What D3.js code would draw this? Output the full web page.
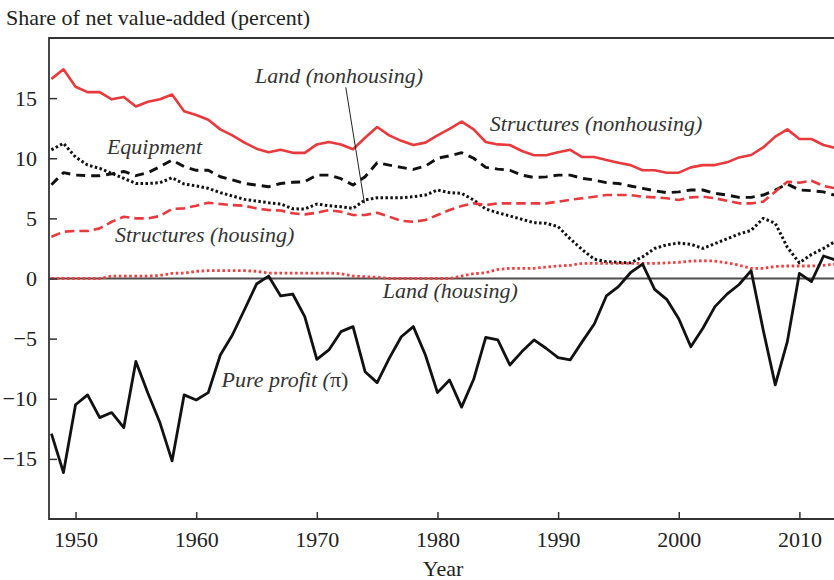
<!DOCTYPE html>
<html lang="en">
<head>
	<meta charset="UTF-8">
	<script type="text/javascript" src="https://d3js.org/d3.v7.min.js"></script>
	<title>capital shares</title>
	<style>
        body{
            margin: 0;
            background: #fff;
        }
        text{
            font-family: "Liberation Serif", "DejaVu Serif", serif;
        }
        .tick text{
            font-size: 22px;
            fill: #222;
        }
        .tick line{
            stroke: #333;
            stroke-width: 1.5px;
        }
        .lbl{
            font-size: 22px;
            font-style: italic;
            fill: #333;
        }
	</style>
</head>
<body>
<svg id="chart" width="834" height="580"></svg>
<script>

	const years = d3.range(1948, 2014);

	// share of net value-added, percent
	const structuresNonhousing = [16.6, 17.4, 15.95, 15.5, 15.5, 14.9, 15.1, 14.3, 14.7, 14.9,
		15.3, 13.9, 13.6, 13.2, 12.4, 11.9, 11.3, 10.8, 10.5, 10.7,
		10.45, 10.45, 11.15, 11.35, 11.15, 10.75, 11.7, 12.6, 11.9, 11.45,
		11.1, 11.3, 11.9, 12.45, 13.05, 12.4, 11.35, 11.15, 11.1, 10.6,
		10.25, 10.25, 10.5, 10.7, 10.1, 10.1, 9.85, 9.63, 9.43, 9.0,
		9.0, 8.8, 8.8, 9.24, 9.43, 9.43, 9.66, 10.07, 10.27, 10.9,
		11.8, 12.4, 11.6, 11.6, 11.1, 10.85];
	const equipment = [7.8, 8.8, 8.6, 8.55, 8.55, 8.7, 8.9, 8.55, 8.8, 9.3,
		9.85, 9.3, 9.0, 9.0, 8.46, 8.2, 7.9, 7.77, 7.63, 7.9,
		8.0, 8.05, 8.6, 8.6, 8.3, 7.77, 8.46, 9.63, 9.43, 9.24,
		9.07, 9.35, 10.0, 10.2, 10.46, 10.0, 9.24, 9.1, 9.0, 8.6,
		8.4, 8.45, 8.6, 8.6, 8.33, 8.19, 7.97, 7.9, 7.69, 7.5,
		7.3, 7.14, 7.2, 7.36, 7.36, 7.08, 6.94, 6.75, 6.75, 6.94,
		7.36, 7.86, 7.36, 7.3, 7.2, 6.9];
	const landNonhousing = [10.7, 11.24, 10.1, 9.43, 9.16, 8.74, 8.33, 7.9, 7.9, 7.97,
		8.38, 7.86, 7.7, 7.5, 7.14, 6.86, 6.58, 6.44, 6.3, 6.2,
		5.8, 5.78, 6.19, 6.05, 5.97, 5.83, 6.53, 6.72, 6.72, 6.72,
		6.8, 6.94, 7.36, 7.14, 7.08, 6.53, 5.78, 5.47, 5.2, 4.92,
		4.64, 4.59, 4.31, 3.3, 2.4, 1.6, 1.4, 1.35, 1.3, 1.8,
		2.5, 2.8, 2.95, 2.85, 2.5, 2.9, 3.3, 3.7, 4.0, 5.0,
		4.6, 2.6, 1.3, 2.0, 2.5, 3.1];
	const structuresHousing = [3.47, 3.89, 3.95, 3.95, 4.17, 4.72, 5.14, 5.0, 5.0, 5.2,
		5.78, 5.83, 6.05, 6.3, 6.19, 6.1, 6.05, 5.83, 5.69, 5.65,
		5.42, 5.33, 5.47, 5.69, 5.55, 5.28, 5.28, 5.47, 5.14, 4.8,
		4.72, 4.86, 5.28, 5.69, 6.03, 6.25, 6.1, 6.25, 6.25, 6.25,
		6.25, 6.25, 6.39, 6.55, 6.67, 6.8, 6.94, 6.94, 6.94, 6.8,
		6.75, 6.67, 6.53, 6.75, 6.8, 6.67, 6.47, 6.25, 6.25, 6.39,
		7.22, 8.05, 7.97, 8.13, 7.69, 7.5];
	const landHousing = [0, 0, 0, 0, 0, 0.2, 0.2, 0.2, 0.2, 0.25,
		0.43, 0.45, 0.6, 0.65, 0.65, 0.65, 0.65, 0.6, 0.45, 0.45,
		0.45, 0.45, 0.45, 0.45, 0.4, 0.2, 0.15, 0.1, 0, 0,
		0, 0, 0, 0, 0.2, 0.4, 0.48, 0.75, 0.85, 0.85,
		0.85, 0.95, 1.04, 1.1, 1.26, 1.26, 1.26, 1.26, 1.26, 1.26,
		1.26, 1.3, 1.35, 1.45, 1.48, 1.45, 1.3, 1.1, 0.85, 0.85,
		1.0, 1.04, 1.04, 1.04, 1.1, 1.2];
	const pureProfit = [-12.9, -16.14, -10.5, -9.68, -11.57, -11.15, -12.4, -6.9, -9.55, -12.0,
		-15.17, -9.68, -10.1, -9.49, -6.36, -4.7, -2.6, -0.46, 0.2, -1.45,
		-1.29, -3.17, -6.72, -5.94, -4.42, -4.0, -7.75, -8.66, -6.64, -4.84,
		-4.0, -6.36, -9.49, -8.44, -10.7, -8.38, -4.89, -5.11, -7.19, -6.08,
		-5.11, -5.8, -6.58, -6.77, -5.25, -3.78, -1.45, -0.68, 0.48, 1.2,
		-0.9, -1.73, -3.35, -5.67, -4.14, -2.34, -1.3, -0.5, 0.65, -4.28,
		-8.85, -5.25, 0.43, -0.26, 1.87, 1.54];

	const xTicks = [1950, 1960, 1970, 1980, 1990, 2000, 2010];
	const yTicks = [-15, -10, -5, 0, 5, 10, 15];

	const series = [
		{name: "Structures (nonhousing)", values: structuresNonhousing, color: "#e8393c", dash: null, width: 2.6},
		{name: "Equipment", values: equipment, color: "#111", dash: "9,6", width: 2.9},
		{name: "Land (nonhousing)", values: landNonhousing, color: "#111", dash: "2.5,2.4", width: 3},
		{name: "Structures (housing)", values: structuresHousing, color: "#e8393c", dash: "9.5,5", width: 2.6},
		{name: "Land (housing)", values: landHousing, color: "#ef4040", dash: "2.6,2.6", width: 2.8},
		{name: "Pure profit", values: pureProfit, color: "#111", dash: null, width: 2.8}
	];

	// text labels on the plot: [text, x-year, y-value]
	const labels = [
		["Land (nonhousing)", 1964.87, 16.25],
		["Equipment", 1952.6, 10.35],
		["Structures (housing)", 1953.27, 3.03],
		["Structures (nonhousing)", 1984.34, 12.26],
		["Land (housing)", 1975.47, -1.62],
		["Pure profit (", 1962.1, -9.02]
	];

	const svg = d3.select("#chart");
	const margin = {left: 49, top: 38, right: 838, bottom: 519};

	const x = d3.scaleLinear().domain([1947.8, 2013.2]).range([margin.left, margin.right]);
	const y = d3.scaleLinear().domain([-20, 20]).range([margin.bottom, margin.top]);

	svg.append("defs").append("clipPath").attr("id", "plot")
		.append("rect")
		.attr("x", margin.left).attr("y", margin.top)
		.attr("width", margin.right - margin.left)
		.attr("height", margin.bottom - margin.top);

	// zero line
	svg.append("line")
		.attr("x1", x.range()[0]).attr("x2", x.range()[1])
		.attr("y1", y(0)).attr("y2", y(0))
		.style("stroke", "#4d4d4d")
		.style("stroke-width", 2);

	const line = d3.line()
		.x((d, i) => x(years[i]))
		.y(d => y(d));

	svg.append("g")
		.attr("clip-path", "url(#plot)")
		.selectAll("path")
		.data(series)
		.join("path")
		.attr("d", d => line(d.values))
		.style("fill", "none")
		.style("stroke", d => d.color)
		.style("stroke-width", d => d.width)
		.style("stroke-dasharray", d => d.dash)
		.style("stroke-linejoin", "round");

	// axes, ticks pointing inward
	const gx = svg.append("g")
		.attr("transform", "translate(0," + margin.bottom + ")")
		.call(d3.axisBottom(x).tickValues(xTicks).tickFormat(d3.format("d"))
			.tickSizeInner(-7).tickSizeOuter(0).tickPadding(12));
	gx.select(".domain").remove();

	const gy = svg.append("g")
		.attr("transform", "translate(" + margin.left + ",0)")
		.call(d3.axisLeft(y).tickValues(yTicks)
			.tickSizeInner(-8).tickSizeOuter(0).tickPadding(12));
	gy.select(".domain").remove();

	// frame: left, top, bottom
	svg.append("path")
		.attr("d", "M" + margin.right + "," + margin.top + "H" + margin.left +
			"V" + margin.bottom + "H" + margin.right)
		.style("fill", "none")
		.style("stroke", "#333")
		.style("stroke-width", 1.8);

	// series labels
	const lbl = svg.selectAll(".lbl")
		.data(labels)
		.join("text")
		.attr("class", "lbl")
		.attr("x", d => x(d[1]))
		.attr("y", d => y(d[2]))
		.text(d => d[0]);
	// upright pi for the profit label
	lbl.filter(d => d[0].startsWith("Pure"))
		.append("tspan").style("font-style", "normal").text("\u03c0)");

	// leader line for land (nonhousing)
	svg.append("line")
		.attr("x1", x(1972.4)).attr("y1", y(15.9))
		.attr("x2", x(1973.95)).attr("y2", y(6.25))
		.style("stroke", "#222")
		.style("stroke-width", 1);

	svg.append("text")
		.attr("x", 6)
		.attr("y", 25)
		.style("font-size", "22px")
		.style("fill", "#222")
		.text("Share of net value-added (percent)");

	svg.append("text")
		.attr("x", 443)
		.attr("y", 576)
		.style("font-size", "22px")
		.style("fill", "#222")
		.style("text-anchor", "middle")
		.text("Year");

</script>

</body>
</html>
